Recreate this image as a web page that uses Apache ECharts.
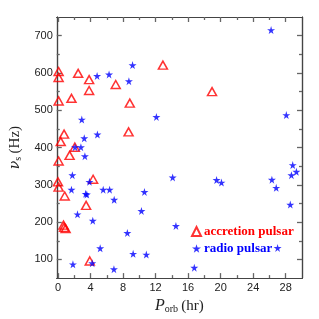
<!DOCTYPE html>
<html><head><meta charset="utf-8">
<script src="https://cdn.jsdelivr.net/npm/echarts@6/dist/echarts.min.js"></script>
<style>html,body{margin:0;padding:0;background:#fff}#c{width:319px;height:319px}</style>
</head><body><div id="c"></div>
<script>
// Accretion pulsars: orbital period (hr), spin frequency (Hz)
const accX = [0.08,0.08,2.48,3.83,3.83,7.1,12.9,0.08,1.66,8.83,8.68,0.75,0.34,2.07,1.43,18.94,0.08,0,0.08,4.32,0.83,3.46,0.68,0.75,0.94,3.91];
const accY = [604,588,599,582,553,569,621,525,532,519,442,436,416,401,379,550,364,308,294,315,270,245,192,186,183,96];
// Radio pulsars
const radX = [4.81,6.28,9.17,8.72,12.1,2.93,4.85,3.23,2.82,2.1,3.31,26.2,28.07,1.77,3.87,1.66,3.4,3.55,5.56,6.35,10.63,6.91,2.4,4.28,10.26,8.53,5.19,9.24,10.86,1.84,4.21,6.88,14.1,14.5,16.76,19.5,20.1,26.3,26.83,28.86,28.7,29.31,28.56,27.0];
const radY = [592,596,621,578,482,475,435,425,401,401,377,715,487,326,308,287,276,274,287,287,281,260,221,204,230,171,130,115,113,87,90,74,320,190,78,313,306,314,292,353,326,335,247,131];
const xMajor = [0,4,8,12,16,20,24,28];
const xMinor = [2,6,10,14,18,22,26];
const yMajor = [100,200,300,400,500,600,700];
const yMinor = [150,250,350,450,550,650];

const star = 'path://M50,0 L61,35 L98,35 L68,57 L79,91 L50,70 L21,91 L32,57 L2,35 L39,35 Z';
const lineC = '#444';
const tickC = '#666';
const chart = echarts.init(document.getElementById('c'));
function xAx(pos, vals, len, labels, extra) {
  return Object.assign({
    type:'value', min:-0.15, max:30, position:pos,
    axisLine:{show:true, onZero:false, lineStyle:{color:lineC, width:1.2}},
    axisTick:{show:true, inside:true, length:len, customValues:vals, lineStyle:{color:tickC, width:1.3}},
    axisLabel:{show:labels, customValues:vals, color:'#222', fontFamily:'Liberation Sans', fontSize:11, margin:4},
    splitLine:{show:false}
  }, extra||{});
}
function yAx(pos, vals, len, labels, extra) {
  return Object.assign({
    type:'value', min:50, max:750, position:pos,
    axisLine:{show:true, onZero:false, lineStyle:{color:lineC, width:1.2}},
    axisTick:{show:true, inside:true, length:len, customValues:vals, lineStyle:{color:tickC, width:1.3}},
    axisLabel:{show:labels, customValues:vals, color:'#222', fontFamily:'Liberation Sans', fontSize:11, margin:4},
    splitLine:{show:false}
  }, extra||{});
}
chart.setOption({
  animation:false,
  grid:{left:35, right:17, top:17, bottom:35},
  xAxis:[
    xAx('bottom', xMajor, 5, true, {
      name:'{i|P}{s|orb} {n|(hr)}', nameLocation:'middle', nameGap:14,
      nameTextStyle:{rich:{
        i:{fontFamily:'Liberation Serif', fontStyle:'italic', fontSize:16, color:'#222'},
        s:{fontFamily:'Liberation Serif', fontSize:10, color:'#222', verticalAlign:'bottom', padding:[6,0,0,0]},
        n:{fontFamily:'Liberation Serif', fontSize:15, color:'#222'}
      }}
    }),
    xAx('bottom', xMinor, 3, false),
    xAx('top', xMajor, 5, false),
    xAx('top', xMinor, 3, false)
  ],
  yAxis:[
    yAx('left', yMajor, 5, true, {
      name:'{i|ν}{s|s} {n|(Hz)}', nameLocation:'middle', nameGap:25, nameRotate:90,
      nameTextStyle:{rich:{
        i:{fontFamily:'DejaVu Serif', fontStyle:'italic', fontSize:14, color:'#222'},
        s:{fontFamily:'Liberation Serif', fontSize:10, color:'#222', verticalAlign:'bottom', padding:[6,0,0,0]},
        n:{fontFamily:'Liberation Serif', fontSize:15, color:'#222'}
      }}
    }),
    yAx('left', yMinor, 3, false),
    yAx('right', yMajor, 5, false),
    yAx('right', yMinor, 3, false)
  ],
  legend:{
    orient:'vertical', left:186, top:220, itemGap:4, itemWidth:9, itemHeight:9,
    textStyle:{fontFamily:'Liberation Serif', fontSize:13, fontWeight:'bold', padding:[0,0,0,-2]},
    data:[
      {name:'accretion pulsar', textStyle:{color:'#ff0000'}},
      {name:'radio pulsar', textStyle:{color:'#0000ff'}}
    ]
  },
  series:[
    {name:'accretion pulsar', type:'scatter', symbol:'triangle', symbolSize:[9,8],
     itemStyle:{color:'rgba(255,255,255,0)', borderColor:'#ff0000', borderWidth:1.5},
     data: accX.map((x,i)=>[x, accY[i]])},
    {name:'radio pulsar', type:'scatter', symbol:star, symbolSize:8,
     itemStyle:{color:'#0000ff'},
     data: radX.map((x,i)=>[x, radY[i]])}
  ]
});
</script></body></html>
